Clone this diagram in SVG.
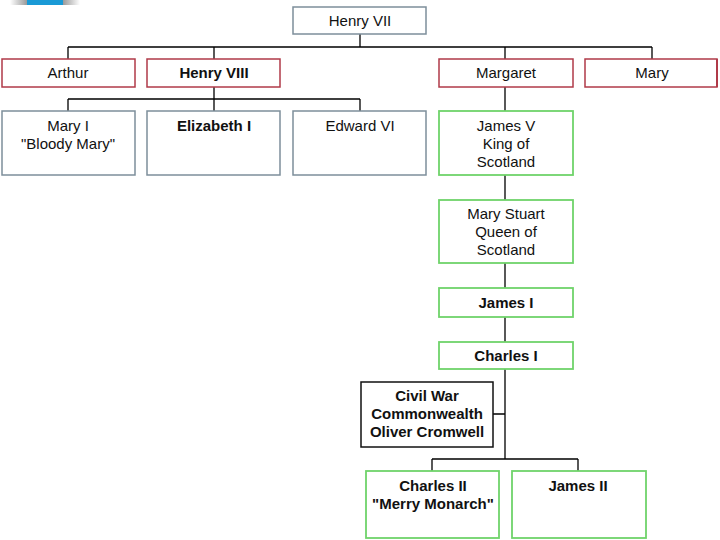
<svg xmlns="http://www.w3.org/2000/svg" width="720" height="540" viewBox="0 0 720 540">
<defs>
<linearGradient id="fadeL" x1="0" x2="1" y1="0" y2="0"><stop offset="0" stop-color="#ffffff"/><stop offset="1" stop-color="#9a9a9a"/></linearGradient>
<linearGradient id="fadeR" x1="0" x2="1" y1="0" y2="0"><stop offset="0" stop-color="#9a9a9a"/><stop offset="1" stop-color="#ffffff"/></linearGradient>
</defs>
<style>
.grey{fill:#ffffff;stroke:#7d8e9b;stroke-width:1.5}
.red{fill:#ffffff;stroke:#b03a48;stroke-width:1.5}
.green{fill:#ffffff;stroke:#6fd36a;stroke-width:1.8}
.black{fill:#ffffff;stroke:#111111;stroke-width:1.5}
text{font-family:"Liberation Sans",Arial,sans-serif;font-size:15px;fill:#111;text-anchor:middle}
.b{font-weight:bold;font-size:15px}
.conn{stroke:#000;stroke-width:1.3;fill:none}
</style>
<rect width="720" height="540" fill="#ffffff"/>
<g id="logo">
<rect x="10" y="0" width="17" height="5" fill="url(#fadeL)"/>
<rect x="27" y="0" width="36" height="5" fill="#1a9ad6"/>
<rect x="63" y="0" width="17" height="5" fill="url(#fadeR)"/>
</g>
<g id="connectors" class="conn">
<path d="M360 34V47M68 47H652M68 47V59M214 47V59M505 47V59M652 47V59"/>
<path d="M214 87V99M68 99H360M68 99V111M214 99V111M360 99V111"/>
<path d="M505 87V111M505 175V200M505 263V288M505 317V342M505 369V459M493 414H505M432 459H578M432 459V471M578 459V471"/>
</g>
<g id="henry7"><rect class="grey" x="293" y="7" width="133" height="27"/><text x="360" y="26">Henry VII</text></g>
<g id="arthur"><rect class="red" x="2" y="59" width="133" height="28"/><text x="68" y="78">Arthur</text></g>
<g id="henry8"><rect class="red" x="147" y="59" width="133" height="28"/><text class="b" x="214" y="78">Henry VIII</text></g>
<g id="margaret"><rect class="red" x="439" y="59" width="134" height="28"/><text x="506" y="78">Margaret</text></g>
<g id="mary"><rect class="red" x="585" y="59" width="132" height="28"/><rect x="716" y="59" width="2" height="28" fill="#b03a48"/><text x="652" y="78">Mary</text></g>
<g id="mary1"><rect class="grey" x="2" y="111" width="133" height="64"/><text x="68" y="131">Mary I</text><text x="68" y="149">"Bloody Mary"</text></g>
<g id="elizabeth1"><rect class="grey" x="147" y="111" width="133" height="64"/><text class="b" x="214" y="131">Elizabeth I</text></g>
<g id="edward6"><rect class="grey" x="293" y="111" width="133" height="64"/><text x="360" y="131">Edward VI</text></g>
<g id="james5"><rect class="green" x="439" y="111" width="134" height="64"/><text x="506" y="131">James V</text><text x="506" y="149">King of</text><text x="506" y="167">Scotland</text></g>
<g id="marystuart"><rect class="green" x="439" y="200" width="134" height="63"/><text x="506" y="219">Mary Stuart</text><text x="506" y="237">Queen of</text><text x="506" y="255">Scotland</text></g>
<g id="james1"><rect class="green" x="439" y="288" width="134" height="29"/><text class="b" x="506" y="308">James I</text></g>
<g id="charles1"><rect class="green" x="439" y="342" width="134" height="27"/><text class="b" x="506" y="361">Charles I</text></g>
<g id="civilwar"><rect class="black" x="361" y="382" width="132" height="65"/><text class="b" x="427" y="401">Civil War</text><text class="b" x="427" y="419">Commonwealth</text><text class="b" x="427" y="437">Oliver Cromwell</text></g>
<g id="charles2"><rect class="green" x="366" y="471" width="133" height="67"/><text class="b" x="433" y="491">Charles II</text><text class="b" x="433" y="509">"Merry Monarch"</text></g>
<g id="james2"><rect class="green" x="512" y="471" width="134" height="67"/><text class="b" x="578" y="491">James II</text></g>
</svg>
